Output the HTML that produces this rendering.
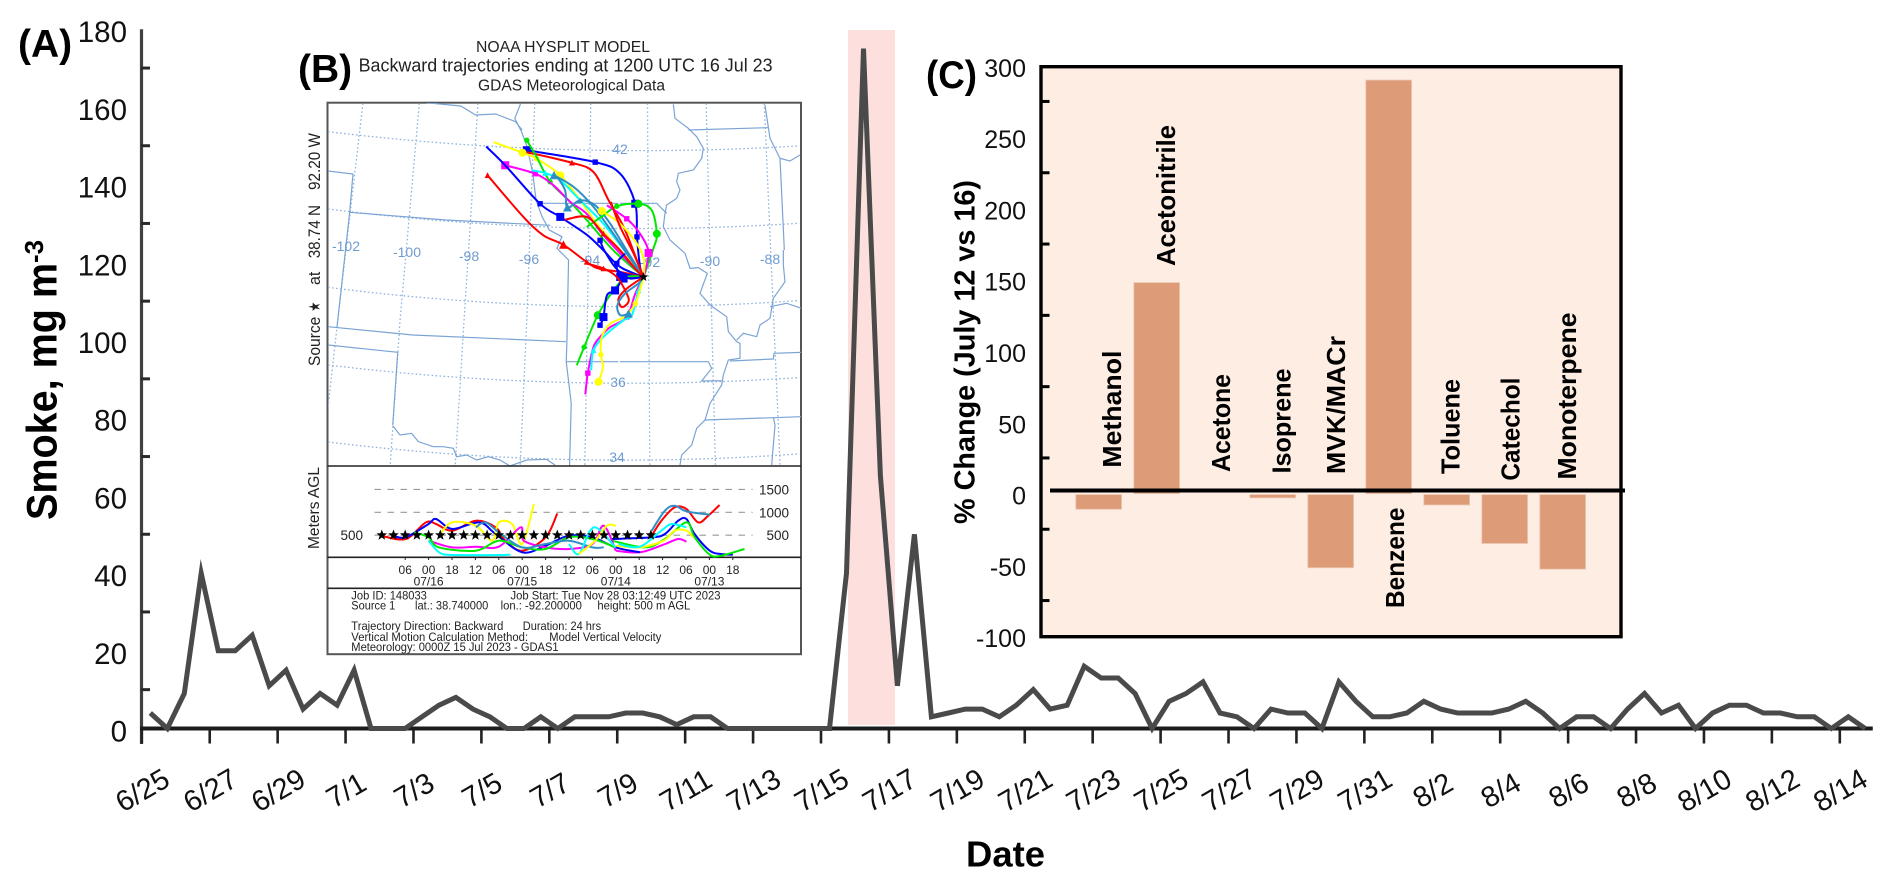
<!DOCTYPE html>
<html lang="en">
<head>
<meta charset="utf-8">
<title>Smoke time series with HYSPLIT trajectories and VOC change</title>
<style>
html,body{margin:0;padding:0;background:#fff;}
svg{display:block;font-family:"Liberation Sans",sans-serif;}
.nss{vector-effect:non-scaling-stroke;fill:none;}
</style>
</head>
<body>
<svg id="fig" xmlns="http://www.w3.org/2000/svg" width="1892" height="887" viewBox="0 0 1892 887">
  <defs><clipPath id="mapclip"><rect x="328" y="103" width="473" height="363"/></clipPath></defs>
  <rect width="1892" height="887" fill="#fff"/>

  <!-- Panel A static -->
  <rect id="band" x="848" y="30" width="47" height="695" fill="#fde0de"/>
  <g id="panelA"></g>
  <text x="18" y="57" font-size="39" font-weight="700">(A)</text>
  <text transform="translate(56.7,520) rotate(-90)" font-size="43" font-weight="700" textLength="257" lengthAdjust="spacingAndGlyphs">Smoke, mg m</text>
  <text transform="translate(43,263) rotate(-90)" font-size="26" font-weight="700" textLength="23" lengthAdjust="spacingAndGlyphs">-3</text>
  <text x="966" y="866.5" font-size="36" font-weight="700" textLength="79" lengthAdjust="spacingAndGlyphs">Date</text>

  <!-- Panel B -->
  <text x="298" y="82" font-size="39" font-weight="700">(B)</text>
  <text x="476" y="52" font-size="15.5" fill="#222" textLength="174" lengthAdjust="spacingAndGlyphs">NOAA HYSPLIT MODEL</text>
  <text x="358.6" y="71.7" font-size="18" fill="#222" textLength="414" lengthAdjust="spacingAndGlyphs">Backward trajectories ending at 1200 UTC 16 Jul 23</text>
  <text x="478" y="90.7" font-size="15.5" fill="#222" textLength="187" lengthAdjust="spacingAndGlyphs">GDAS Meteorological Data</text>
  <rect x="327.5" y="102.7" width="473.5" height="551.5" fill="#fff" stroke="#555" stroke-width="2"/>

  <g clip-path="url(#mapclip)">
    <g transform="translate(280,40) scale(0.33167,0.33333)" stroke="#8fb3dc" stroke-width="1.3" stroke-dasharray="1.6 2.4">
      <path class="nss" d="M145,275 Q850,360 1560,318"/>
      <path class="nss" d="M145,507 Q850,596 1560,550"/>
      <path class="nss" d="M145,742 Q850,832 1560,782"/>
      <path class="nss" d="M145,975 Q850,1060 1560,1013"/>
      <path class="nss" d="M145,1206 Q850,1292 1560,1242"/>
      <path class="nss" d="M250,190 L172,860 L145,1100"/>
      <path class="nss" d="M420,190 L362,840 L332,1280"/>
      <path class="nss" d="M597,190 L555,840 L528,1280"/>
      <path class="nss" d="M768,190 L744,840 L724,1280"/>
      <path class="nss" d="M937,190 L924,1000 L919,1280"/>
      <path class="nss" d="M1108,190 L1115,1280"/>
      <path class="nss" d="M1285,190 L1313,1280"/>
      <path class="nss" d="M1460,190 L1508,1280"/>
    </g>
    <g transform="translate(280,40) scale(0.33167,0.33333)" stroke="#7ba4d4" stroke-width="1.2">
      <path class="nss" d="M440,188 L545,198 L590,225 L650,222 L710,245 L730,270"/>
      <path class="nss" d="M725,192 L708,235 L728,275 L745,320 L762,400 L772,480 L790,530 L812,570 L850,590 L835,625 L870,660 L865,905 L863,965 L878,1090 L873,1280"/>
      <path class="nss" d="M145,393 L220,402 L210,517 L172,860"/>
      <path class="nss" d="M210,517 L500,540 L815,556"/>
      <path class="nss" d="M145,860 L400,885 L862,905"/>
      <path class="nss" d="M145,915 L355,937 L340,1155"/>
      <path class="nss" d="M863,965 L1020,965"/>
      <path class="nss" d="M775,490 L1020,490"/>
    </g>
    <g transform="translate(320,320) scale(0.33333)" stroke="#7ba4d4" stroke-width="1.2">
      <path class="nss" d="M218,317 L240,345 L275,340 L295,365 L340,380 L370,380 L400,385 L410,410 L440,405 L470,420 L505,410 L540,420 L570,438 L620,420 L680,418 L705,435"/>
    </g>
    <g transform="translate(620,95) scale(0.33333)" stroke="#7ba4d4" stroke-width="1.2">
      <path class="nss" d="M0,325 L110,325 L140,355"/>
      <path class="nss" d="M160,28 L165,70 L205,100 L230,125 L250,160 L245,190 L220,225 L175,235 L170,260 L180,285 L170,310 L140,330 L135,355 L130,395 L150,435 L195,475 L210,520 L235,518 L262,535 L240,595 L270,630 L320,665 L325,710 L350,740 L360,745 L360,790 L325,795"/>
      <path class="nss" d="M350,735 L370,715 L410,725 L420,690 L450,670 L460,610 L495,560 L490,510 L490,465"/>
      <path class="nss" d="M480,190 L493,465"/>
      <path class="nss" d="M205,105 L445,98"/>
      <path class="nss" d="M435,30 L450,130 L480,190 L510,198 L540,180"/>
      <path class="nss" d="M330,798 L460,792 L462,775 L545,772"/>
      <path class="nss" d="M0,800 L265,800 L275,820 L245,858 L305,857"/>
      <path class="nss" d="M325,795 L310,840 L305,870 L270,925 L255,975 L230,1000 L215,1050 L185,1080 L180,1110"/>
      <path class="nss" d="M255,975 L460,968 L545,965"/>
      <path class="nss" d="M460,968 L465,990 L455,1110"/>
      <path class="nss" d="M450,635 L500,625 L545,640"/>
    </g>
    <g font-size="14" fill="#6f9bd0" text-anchor="middle">
      <text x="620" y="154">42</text>
      <text x="618" y="387">36</text>
      <text x="617" y="462">34</text>
      <text x="346" y="251">-102</text>
      <text x="407" y="257">-100</text>
      <text x="469" y="261">-98</text>
      <text x="529" y="264">-96</text>
      <text x="590" y="265">-94</text>
      <text x="650" y="267">-92</text>
      <text x="710" y="266">-90</text>
      <text x="770" y="264">-88</text>
    </g>
  </g>
  <g id="trajMap" clip-path="url(#mapclip)"></g>

  <line x1="327.5" x2="801" y1="466" y2="466" stroke="#222" stroke-width="1.6"/>
  <line x1="327.5" x2="801" y1="557.3" y2="557.3" stroke="#222" stroke-width="1.6"/>
  <line x1="327.5" x2="801" y1="588.3" y2="588.3" stroke="#222" stroke-width="1.6"/>

  <g font-size="16.5" fill="#222">
    <text transform="translate(320,366) rotate(-90)" textLength="49.3" lengthAdjust="spacingAndGlyphs">Source</text>
    <text transform="translate(320,311.7) rotate(-90)" textLength="10" lengthAdjust="spacingAndGlyphs">★</text>
    <text transform="translate(320,285) rotate(-90)" textLength="13.3" lengthAdjust="spacingAndGlyphs">at</text>
    <text transform="translate(320,258.3) rotate(-90)" textLength="53.3" lengthAdjust="spacingAndGlyphs">38.74 N</text>
    <text transform="translate(320,190) rotate(-90)" textLength="57" lengthAdjust="spacingAndGlyphs">92.20 W</text>
  </g>
  <text transform="translate(319,549) rotate(-90)" font-size="15.5" fill="#222" textLength="82" lengthAdjust="spacingAndGlyphs">Meters AGL</text>
  <g id="altitude"></g>

  <g font-size="12.3" fill="#222">
    <text x="351.3" y="599.3" textLength="75.6" lengthAdjust="spacingAndGlyphs">Job ID: 148033</text>
    <text x="510.5" y="599.3" textLength="210" lengthAdjust="spacingAndGlyphs">Job Start: Tue Nov 28 03:12:49 UTC 2023</text>
    <text x="351.3" y="609.3" textLength="44" lengthAdjust="spacingAndGlyphs">Source 1</text>
    <text x="415" y="609.3" textLength="73.3" lengthAdjust="spacingAndGlyphs">lat.: 38.740000</text>
    <text x="500.6" y="609.3" textLength="81.3" lengthAdjust="spacingAndGlyphs">lon.: -92.200000</text>
    <text x="597.4" y="609.3" textLength="92.9" lengthAdjust="spacingAndGlyphs">height: 500 m AGL</text>
    <text x="351.3" y="630" textLength="152" lengthAdjust="spacingAndGlyphs">Trajectory Direction: Backward</text>
    <text x="522.8" y="630" textLength="78.3" lengthAdjust="spacingAndGlyphs">Duration: 24 hrs</text>
    <text x="351.3" y="641" textLength="176.8" lengthAdjust="spacingAndGlyphs">Vertical Motion Calculation Method:</text>
    <text x="549.3" y="641" textLength="112" lengthAdjust="spacingAndGlyphs">Model Vertical Velocity</text>
    <text x="351.3" y="651" textLength="207.3" lengthAdjust="spacingAndGlyphs">Meteorology: 0000Z 15 Jul 2023 - GDAS1</text>
  </g>

  <!-- Panel C -->
  <text x="926" y="88" font-size="39" font-weight="700" textLength="51" lengthAdjust="spacingAndGlyphs">(C)</text>
  <rect x="1041" y="66.7" width="580" height="570" fill="#fdede3" stroke="#000" stroke-width="3.4"/>
  <text transform="translate(974.4,524) rotate(-90)" font-size="29" font-weight="700" textLength="344" lengthAdjust="spacingAndGlyphs">% Change (July 12 vs 16)</text>
  <g id="panelC"></g>
  <g font-size="26" font-weight="700" fill="#000">
    <text transform="translate(1121,467.6) rotate(-90)" textLength="117" lengthAdjust="spacingAndGlyphs">Methanol</text>
    <text transform="translate(1175,266) rotate(-90)" textLength="141" lengthAdjust="spacingAndGlyphs">Acetonitrile</text>
    <text transform="translate(1230,472) rotate(-90)" textLength="98" lengthAdjust="spacingAndGlyphs">Acetone</text>
    <text transform="translate(1290.6,473.5) rotate(-90)" textLength="105" lengthAdjust="spacingAndGlyphs">Isoprene</text>
    <text transform="translate(1345,474) rotate(-90)" textLength="138" lengthAdjust="spacingAndGlyphs">MVK/MACr</text>
    <text transform="translate(1404,608) rotate(-90)" textLength="100.5" lengthAdjust="spacingAndGlyphs">Benzene</text>
    <text transform="translate(1459.5,474) rotate(-90)" textLength="95" lengthAdjust="spacingAndGlyphs">Toluene</text>
    <text transform="translate(1519.5,480.6) rotate(-90)" textLength="103" lengthAdjust="spacingAndGlyphs">Catechol</text>
    <text transform="translate(1576,479.5) rotate(-90)" textLength="167" lengthAdjust="spacingAndGlyphs">Monoterpene</text>
  </g>
</svg>

<script>
// ---------- Panel A data ----------
const smokeTickLabels = ["6/25","6/27","6/29","7/1","7/3","7/5","7/7","7/9","7/11","7/13","7/15","7/17","7/19","7/21","7/23","7/25","7/27","7/29","7/31","8/2","8/4","8/6","8/8","8/10","8/12","8/14"];
const smokeValues = [4,0,9,40,20,20,24,11,15,5,9,6,15,0,0,0,3,6,8,5,3,0,0,3,0,3,3,3,4,4,3,1,3,3,0,0,0,0,0,0,0,40,175,65,11,50,3,4,5,5,3,6,10,5,6,16,13,13,9,0,7,9,12,4,3,0,5,4,4,0,12,7,3,3,4,7,5,4,4,4,5,7,4,0,3,3,0,5,9,4,6,0,4,6,6,4,4,3,3,0,3,0];
const smokeYLabels = [0,20,40,60,80,100,120,140,160,180];
const smokeYMinor = [10,30,50,70,90,110,130,150,170];

// ---------- Panel C data ----------
const compounds = ["Methanol","Acetonitrile","Acetone","Isoprene","MVK/MACr","Benzene","Toluene","Catechol","Monoterpene"];
const percentChange = [-11,148,0,-3,-52,290,-8,-35,-53];
const barYLabels = [-100,-50,0,50,100,150,200,250,300];
const barYMinor = [-75,-25,25,75,125,175,225,275];

// ---------- Panel B data: trajectories (longitude, latitude) ----------
const trajLon = [
 [-96.31,-93.90,-93.02,-92.49,-92.43,-92.32,-92.2],
 [-96.31,-94.72,-93.96,-93.43,-92.90,-92.43,-92.2],
 [-97.48,-96.46,-95.96,-95.13,-94.43,-93.84,-93.02,-92.2],
 [-96.31,-95.96,-95.49,-94.78,-94.08,-93.26,-92.2],
 [-97.07,-96.01,-95.37,-94.78,-94.20,-93.61,-92.90,-92.2],
 [-97.74,-97.07,-95.84,-95.13,-94.20,-93.61,-93.02,-92.2],
 [-97.69,-96.43,-95.72,-95.02,-94.20,-93.78,-93.02,-92.2],
 [-96.13,-95.66,-95.13,-94.43,-93.61,-92.79,-92.2],
 [-95.35,-94.66,-93.96,-93.26,-92.55,-92.2],
 [-95.23,-94.96,-94.88,-94.43,-93.90,-93.37,-92.79,-92.2],
 [-94.2,-93.61,-93.14,-92.38,-91.91,-91.73,-91.85,-92.2],
 [-93.49,-92.79,-92.32,-92.02,-92.2],
 [-93.67,-93.02,-92.43,-92.18,-92.2],
 [-94.96,-94.2,-93.61,-93.02,-92.55,-92.2],
 [-93.35,-93.02,-92.55,-92.2],
 [-93.73,-93.55,-93.02,-92.2],
 [-92.85,-93.14,-93.02,-92.73,-92.2],
 [-94.55,-94.29,-93.81,-93.26,-92.79,-92.2],
 [-94.25,-94.16,-93.96,-93.73,-93.37,-92.79,-92.49,-92.2],
 [-94.04,-93.96,-93.55,-92.9,-92.61,-92.38,-92.2],
 [-93.78,-93.63,-93.7,-93.67,-93.37,-92.9,-92.49,-92.2],
 [-93.73,-93.61,-93.49,-93.2,-92.9,-92.61,-92.2],
 [-94.2,-93.61,-93.14,-92.79,-92.73,-92.96,-93.08,-92.79,-92.2],
 [-92.73,-93.02,-93.12,-92.85,-92.38,-92.2]
];
const trajLat = [
 [42.79,42.41,42.04,41.08,40.02,39.06,38.74],
 [42.73,42.39,42.09,41.19,40.34,39.27,38.74],
 [43.05,42.71,42.52,41.99,41.19,40.44,39.59,38.74],
 [43.11,42.57,41.78,41.14,40.44,39.59,38.74],
 [42.31,42.04,41.67,41.14,40.76,40.07,39.38,38.74],
 [42.91,42.31,41.08,40.66,40.09,39.59,39.06,38.74],
 [41.99,40.66,40.07,39.77,39.22,39.01,38.90,38.74],
 [42.15,42.06,41.83,41.19,40.44,39.49,38.74],
 [41.99,41.62,40.98,40.12,39.17,38.74],
 [41.93,41.51,40.96,41.19,41.03,40.44,39.59,38.74],
 [40.34,40.71,41.0,41.08,40.87,40.12,39.65,38.74],
 [41.03,40.6,40.12,39.51,38.74],
 [40.85,40.44,39.8,39.27,38.74],
 [40.57,40.66,40.12,39.59,39.06,38.74],
 [41.14,40.34,39.49,38.74],
 [39.91,39.54,38.90,38.74],
 [39.49,39.17,38.74,38.74,38.74],
 [35.92,36.5,37.52,38.31,38.74,38.74],
 [34.99,35.67,36.5,36.82,37.14,37.46,38.21,38.74],
 [35.76,36.4,36.88,37.36,37.52,38.31,38.74],
 [35.39,35.86,36.26,36.82,37.25,37.46,37.89,38.74],
 [37.2,37.46,38.15,38.31,38.69,38.69,38.74],
 [39.17,39.01,38.74,38.21,37.94,37.78,38.05,38.37,38.74],
 [37.57,37.52,37.83,38.21,38.53,38.74]
];
const trajColor = ["#0000ff","#ff0000","#ffff00","#00e800","#ff00ff","#0000ff","#ff0000","#00ffff","#2f8fc4","#2f8fc4","#00e800","#ff00ff","#ffff00","#ff0000","#ff0000","#0000ff","#0000ff","#00e800","#ff00ff","#00ffff","#ffff00","#0000ff","#ff0000","#2f8fc4"];
const trajShape = ["square","triangle","circle","circle","square","square","triangle","triangle","triangle","triangle","circle","square","circle","triangle","triangle","square","square","circle","square","triangle","circle","square","triangle","triangle"];
const trajSmallMarks = [[1,4],[1],[2],[0,2],[1],[2],[0,4],[1],[],[3],[2],[1],[],[2],[],[0],[1],[1],[1,5],[1,5],[2,6],[0],[1],[]];
const trajBigMarks = [[0,3],[],[1,3],[],[0],[3],[3],[],[0],[2],[3,5],[3],[0],[],[],[],[2],[2],[],[],[0],[1,3,4],[],[0]];

// altitude traces (hours back from 07/16 00 UTC, metres AGL)
const altHours = [
 [57.2,59.7,63.1,66.1,69.1,71.7,74.6],
 [47,57.2,60.6,64,66.1,68.2,72.1,75,78],
 [47,55.5,60.6,66.1,68.2,72.1,75,81],
 [48,54.2,60.2,64,66.1],
 [48,54.2,60.2,63.1,66.1,67.8],
 [57.2,60.6,63.1,66.1,72.1],
 [48.7,54.2,59.7,62.3,66.1],
 [-12.2,-5.9,-0.7,1.9,6.1,12.1,17.2,19.7,24,30,33],
 [-9,-5.9,0,1.9,6.1,13,17.2,24,30,35.9,42,48,54.2],
 [2.7,6,12.1,16.3,18,21.4,24,27],
 [0,6,12.1,18,23.6,24.4,30,36,42,44.9,48],
 [0,2.7,6,18,21],
 [-3.7,0,2.7,12.1,18,24,30,36,42,48],
 [12.1,14.6,18,24,30,36,42,44.9],
 [36,38.5,41.4,43.6,47.9],
 [38.5,42.7,45.7,48]
];
const altMeters = [
 [489,817,1109,1072,780,926,1160],
 [416,452,525,817,853,525,160,87,73],
 [379,233,416,780,452,73,51,197],
 [160,124,292,416,357],
 [270,233,379,598,598,452],
 [598,1036,1145,1021,948],
 [306,248,598,744,671],
 [489,416,780,744,598,817,671,379,160,452,977],
 [489,452,744,853,635,780,525,124,270,489,452,233,124],
 [489,780,707,379,780,744,306,1182],
 [379,233,248,248,671,379,233,197,306,707,160],
 [379,124,66,66,73],
 [562,452,233,160,379,233,197,452,416,233],
 [671,780,562,233,306,379,233,233],
 [306,87,598,635,233],
 [87,379,707,707]
];
const altColor = ["#ff0000","#0000ff","#00e800","#ff00ff","#ffff00","#2f8fc4","#00ffff","#ff0000","#0000ff","#ffff00","#ff00ff","#00ffff","#00e800","#2f8fc4","#00ffff","#ffff00"];
const starHours = [-12,-9,-6,-3,0,3,6,9,12,15,18,21,24,27,30,33,36,39,42,45,48,51,54,57];
const starAltitude = 500;
const altGridLevels = [1500,1000,500];
const timeTicks = [-6,0,6,12,18,24,30,36,42,48,54,60,66,72,78];
const timeTickLabels = ["06","00","18","12","06","00","18","12","06","00","18","12","06","00","18"];
const dateTicks = [0,24,48,72];
const dateTickLabels = ["07/16","07/15","07/14","07/13"];

// ---------- helpers ----------
const NS = 'http://www.w3.org/2000/svg';
function mk(tag, attrs, parent, txt) {
  const n = document.createElementNS(NS, tag);
  for (const k in attrs) n.setAttribute(k, attrs[k]);
  if (txt !== undefined) n.textContent = txt;
  parent.appendChild(n);
  return n;
}
function smooth(pts) {
  let d = 'M' + pts[0][0].toFixed(1) + ',' + pts[0][1].toFixed(1);
  for (let i = 0; i < pts.length - 1; i++) {
    const p0 = pts[Math.max(i - 1, 0)], p1 = pts[i], p2 = pts[i + 1], p3 = pts[Math.min(i + 2, pts.length - 1)];
    const c1x = p1[0] + (p2[0] - p0[0]) / 6, c1y = p1[1] + (p2[1] - p0[1]) / 6;
    const c2x = p2[0] - (p3[0] - p1[0]) / 6, c2y = p2[1] - (p3[1] - p1[1]) / 6;
    d += 'C' + c1x.toFixed(1) + ',' + c1y.toFixed(1) + ' ' + c2x.toFixed(1) + ',' + c2y.toFixed(1) + ' ' + p2[0].toFixed(1) + ',' + p2[1].toFixed(1);
  }
  return d;
}
function starPath(cx, cy, r) {
  let d = '';
  for (let i = 0; i < 10; i++) {
    const a = -Math.PI / 2 + i * Math.PI / 5, q = i % 2 ? r * 0.42 : r;
    d += (i ? 'L' : 'M') + (cx + q * Math.cos(a)).toFixed(1) + ',' + (cy + q * Math.sin(a)).toFixed(1);
  }
  return d + 'Z';
}
function drawMarker(shape, x, y, r, color, parent) {
  if (shape === 'square') return mk('rect', {x: x - r, y: y - r, width: 2 * r, height: 2 * r, fill: color}, parent);
  if (shape === 'circle') return mk('circle', {cx: x, cy: y, r: r, fill: color}, parent);
  return mk('path', {d: 'M' + x + ',' + (y - r * 1.1) + 'L' + (x + r * 1.1) + ',' + (y + r) + 'L' + (x - r * 1.1) + ',' + (y + r) + 'Z', fill: color}, parent);
}

// ---------- Panel A axes ----------
const xA = i => 141.8 + 16.98 * i;
const xPoint = i => xA(i + 0.5);
const yA = v => 728.5 - 3.885 * v;
const gA = document.getElementById('panelA');

const yAxisA = mk('line', {x1: 141.5, x2: 141.5, y1: yA(180), y2: 744, stroke: '#404040', 'stroke-width': 3.2}, gA);



smokeYMinor.forEach(v => {
  const t = mk('line', {x1: 141, x2: 150, y1: yA(v), y2: yA(v), stroke: '#2a2a2a', 'stroke-width': 3}, gA);
  
  
});
smokeYLabels.forEach(v => {
  const t = mk('text', {x: 127, y: yA(v) + 13, 'font-size': 29.5, 'text-anchor': 'end', fill: '#111'}, gA, String(v));
  
  
});
// each labelled tick spans two days = four half-day samples
smokeTickLabels.forEach((lab, k) => {
  const tx = xA(k * 4);
  const t = mk('line', {x1: tx, x2: tx, y1: 728, y2: 743.5, stroke: '#222', 'stroke-width': 2.6}, gA);
  
  
  const l = mk('text', {x: tx + 1, y: 791, 'font-size': 29, 'text-anchor': 'middle', 'dominant-baseline': 'central', transform: 'rotate(-30 ' + (tx + 1) + ' 791)', fill: '#111'}, gA, lab);
  
  
});
const baseA = mk('line', {x1: 140, x2: xA(102) - 1, y1: 728.5, y2: 728.5, stroke: '#1c1c1c', 'stroke-width': 4}, gA);


const smokeLine = mk('path', {
  d: smokeValues.map((v, i) => (i ? 'L' : 'M') + xPoint(i).toFixed(1) + ',' + yA(v).toFixed(1)).join(''),
  fill: 'none', stroke: '#4a4a4a', 'stroke-width': 5, 'stroke-linejoin': 'miter', 'stroke-miterlimit': 6
}, gA);



// ---------- Panel C ----------
const xBar = i => 1098.7 + 58 * i;
const yBar = v => 493.6 - 1.426 * v;
const barW = 45.8;
const gC = document.getElementById('panelC');
barYMinor.forEach(v => {
  const t = mk('line', {x1: 1041, x2: 1049.5, y1: yBar(v), y2: yBar(v), stroke: '#000', 'stroke-width': 3}, gC);
  
  
});
barYLabels.forEach(v => {
  const t = mk('text', {x: 1026, y: yBar(v) + 11, 'font-size': 25, 'text-anchor': 'end', fill: '#111'}, gC, String(v));
  
  
});
percentChange.forEach((v, i) => {
  if (v === 0) return;
  const top = v > 0 ? yBar(v) : yBar(0) + 1;
  const h = v > 0 ? yBar(0) - yBar(v) : yBar(v) - top;
  const b = mk('rect', {x: xBar(i) - barW / 2, y: top, width: barW, height: h, fill: '#de9b78', stroke: '#ecc8b4', 'stroke-width': 0.8}, gC);
  
  
});
const zeroLine = mk('line', {x1: 1050, x2: 1625, y1: 490.5, y2: 490.5, stroke: '#000', 'stroke-width': 4}, gC);



// ---------- Panel B map trajectories ----------
const mapX = lon => 643.5 + (lon + 92.2) * 28.4;
const mapY = lat => 277 + (38.74 - lat) * 31.3;
const gT = document.getElementById('trajMap');
trajLon.forEach((lons, s) => {
  const pts = lons.map((lon, i) => [mapX(lon), mapY(trajLat[s][i])]);
  const p = mk('path', {d: smooth(pts), fill: 'none', stroke: trajColor[s], 'stroke-width': 2}, gT);
  
  
  trajSmallMarks[s].forEach(i => {
    const m = drawMarker(trajShape[s], pts[i][0], pts[i][1], 2.7, trajColor[s], gT);
    
    
  });
  trajBigMarks[s].forEach(i => {
    const m = drawMarker(trajShape[s], pts[i][0], pts[i][1], 4, trajColor[s], gT);
    
    
  });
});
const srcStar = mk('path', {d: starPath(mapX(-92.2), mapY(38.74), 5), fill: '#000'}, gT);



// ---------- Panel B altitude ----------
const altX = h => 428.6 + h * 3.9;
const altY = m => 558 - 0.0457 * m;
const gAlt = document.getElementById('altitude');
altGridLevels.forEach(m => {
  const g = mk('line', {x1: 374.5, x2: 752.6, y1: altY(m), y2: altY(m), stroke: '#999', 'stroke-width': 1.1, 'stroke-dasharray': '6.5 6.5'}, gAlt);
  
  
  const l = mk('text', {x: 789, y: altY(m) + 5, 'font-size': 13.5, 'text-anchor': 'end', fill: '#222'}, gAlt, String(m));
  
  
});
const leftAlt = mk('text', {x: 363, y: altY(500) + 5, 'font-size': 13.5, 'text-anchor': 'end', fill: '#222'}, gAlt, '500');


altHours.forEach((hs, s) => {
  const pts = hs.map((h, i) => [altX(h), altY(altMeters[s][i])]);
  const p = mk('path', {d: smooth(pts), fill: 'none', stroke: altColor[s], 'stroke-width': 2}, gAlt);
  
  
});
starHours.forEach(h => {
  const st = mk('path', {d: starPath(altX(h), altY(starAltitude), 5.6), fill: '#000'}, gAlt);
  
  
});
timeTicks.forEach((h, i) => {
  const t = mk('text', {x: altX(h), y: 574, 'font-size': 12, 'text-anchor': 'middle', fill: '#222'}, gAlt, timeTickLabels[i]);
  
  
  const k = mk('line', {x1: altX(h), x2: altX(h), y1: 557, y2: 560, stroke: '#222', 'stroke-width': 1}, gAlt);
  
  
});
dateTicks.forEach((h, i) => {
  const t = mk('text', {x: altX(h), y: 585.5, 'font-size': 12, 'text-anchor': 'middle', fill: '#222'}, gAlt, dateTickLabels[i]);
  
  
});
</script>
</body>
</html>
